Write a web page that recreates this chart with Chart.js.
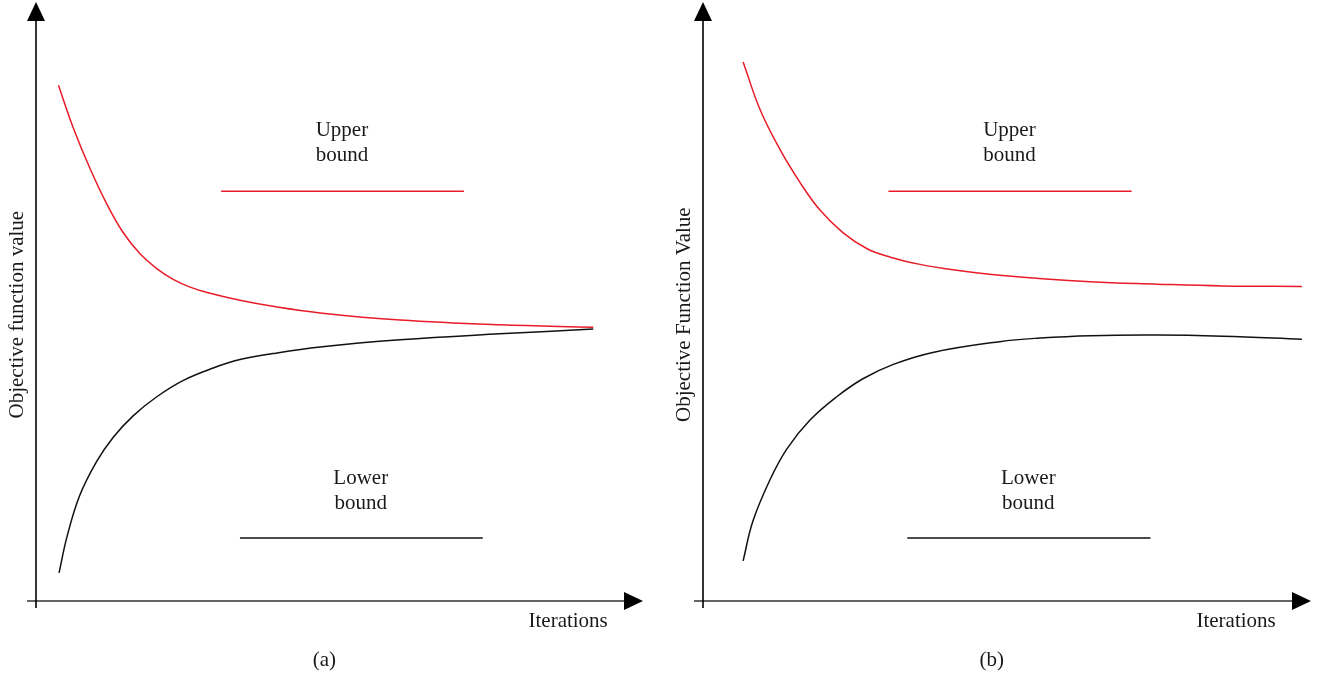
<!DOCTYPE html>
<html>
<head>
<meta charset="utf-8">
<title>Upper and lower bound convergence</title>
<script src="https://cdn.jsdelivr.net/npm/chart.js@4.4.1/dist/chart.umd.min.js"></script>
<style>
  html, body { margin: 0; padding: 0; background: #fff; }
  #wrap { position: relative; width: 1322px; height: 676px; }
  canvas { position: absolute; top: 0; }
  #chart-a { left: 0; }
  #chart-b { left: 661px; }
</style>
</head>
<body>
<div id="wrap">
  <canvas id="chart-a" width="661" height="676"></canvas>
  <canvas id="chart-b" width="661" height="676"></canvas>
</div>
<script>
'use strict';

// DATA (iterations 0-100, objective value 0-100)

let upperAx = [3.7, 6.1, 8.9, 11.7, 14.3, 17.1, 19.9, 22.6, 25.4, 28.2, 33.6, 39.0, 46.8, 60.0, 76.4, 91.8];
let upperAy = [86.1, 79.1, 72.2, 66.2, 61.6, 58.0, 55.5, 53.7, 52.4, 51.5, 50.2, 49.2, 48.1, 46.9, 46.1, 45.7];
let lowerAx = [3.8, 5.1, 7.2, 10.0, 12.7, 16.0, 19.9, 24.2, 29.2, 33.6, 39.0, 46.8, 60.0, 76.4, 91.8];
let lowerAy = [4.7, 10.7, 17.6, 23.3, 27.3, 30.9, 34.1, 36.8, 38.9, 40.3, 41.3, 42.4, 43.6, 44.6, 45.4];

let upperBx = [6.6, 9.4, 12.7, 16.0, 19.2, 23.0, 27.0, 30.8, 35.7, 41.1, 48.8, 63.7, 74.7, 85.5, 98.5];
let upperBy = [90.0, 82.0, 75.3, 69.8, 65.3, 61.5, 58.8, 57.4, 56.2, 55.3, 54.4, 53.3, 52.9, 52.6, 52.5];
let lowerBx = [6.6, 8.2, 11.0, 13.8, 17.6, 22.0, 26.3, 31.3, 37.8, 48.8, 55.4, 63.7, 74.7, 85.5, 98.5];
let lowerBy = [6.7, 13.3, 20.2, 25.4, 30.2, 34.1, 37.1, 39.5, 41.5, 43.3, 43.9, 44.3, 44.4, 44.2, 43.7];

// key segments: [x start, x end], y level
let upperKeyX = [30.5, 70.5];
let upperKeyY = 68.4;
let lowerKeyX = [33.6, 73.6];
let lowerKeyY = 10.5;

// TEXTS

let keyLabels = [['Upper', 'bound'], ['Lower', 'bound']];
let yTitles = ['Objective function value', 'Objective Function Value'];
let xTitle = 'Iterations';
let panelLabels = ['(a)', '(b)'];

// STYLE

const RED = 'rgb(232, 28, 40)';
const BLACK = '#111';
const FONT = '21px "Liberation Serif", "Times New Roman", serif';

// HELPERS

function toPoints(xs, ys) {
  let pts = [];
  for (let i = 0; i < xs.length; i++) {
    pts.push({ x: xs[i], y: ys[i] });
  }
  return pts;
}

function curve(xs, ys, color) {
  return {
    data: toPoints(xs, ys),
    borderColor: color,
    borderWidth: 1.5,
    pointRadius: 0,
    tension: 0.4,
    fill: false
  };
}

function keyLine(xs, y, color) {
  return {
    data: [{ x: xs[0], y: y }, { x: xs[1], y: y }],
    borderColor: color,
    borderWidth: 1.5,
    pointRadius: 0,
    tension: 0,
    fill: false
  };
}

// draws arrowed axes, key labels, axis titles and panel caption
function decorPlugin(idx) {
  return {
    id: 'decor' + idx,
    afterDraw(chart) {
      let c = chart.ctx;
      let xs = chart.scales.x;
      let ys = chart.scales.y;
      let ox = xs.getPixelForValue(0);
      let oy = ys.getPixelForValue(0);
      let tipX = xs.getPixelForValue(100);
      let tipY = ys.getPixelForValue(100);

      c.save();
      // x axis
      c.strokeStyle = '#333';
      c.lineWidth = 1.6;
      c.beginPath();
      c.moveTo(ox - 9, oy);
      c.lineTo(tipX - 16, oy);
      c.stroke();
      c.fillStyle = '#000';
      c.beginPath();
      c.moveTo(tipX, oy);
      c.lineTo(tipX - 19, oy - 9);
      c.lineTo(tipX - 19, oy + 9);
      c.closePath();
      c.fill();
      // y axis
      c.strokeStyle = '#000';
      c.beginPath();
      c.moveTo(ox, oy + 7);
      c.lineTo(ox, tipY + 16);
      c.stroke();
      c.beginPath();
      c.moveTo(ox, tipY);
      c.lineTo(ox - 9, tipY + 19);
      c.lineTo(ox + 9, tipY + 19);
      c.closePath();
      c.fill();

      // key labels
      c.font = FONT;
      c.fillStyle = '#1a1a1a';
      c.textAlign = 'center';
      c.textBaseline = 'middle';
      c.fillText(keyLabels[0][0], xs.getPixelForValue(50.4), ys.getPixelForValue(78.5));
      c.fillText(keyLabels[0][1], xs.getPixelForValue(50.4), ys.getPixelForValue(74.3));
      c.fillText(keyLabels[1][0], xs.getPixelForValue(53.5), ys.getPixelForValue(20.5));
      c.fillText(keyLabels[1][1], xs.getPixelForValue(53.5), ys.getPixelForValue(16.2));

      // x title
      c.textAlign = 'right';
      c.fillText(xTitle, xs.getPixelForValue(94.2), oy + 20);

      // caption
      c.textAlign = 'center';
      c.fillText(panelLabels[idx], xs.getPixelForValue(47.5), oy + 59);

      // y title
      c.translate(ox - 19, ys.getPixelForValue(47.8));
      c.rotate(-Math.PI / 2);
      c.fillText(yTitles[idx], 0, 0);
      c.restore();
    }
  };
}

function makeChart(canvasId, idx, datasets, padRight) {
  let ctx = document.getElementById(canvasId).getContext('2d');
  return new Chart(ctx, {
    type: 'line',
    data: { datasets: datasets },
    options: {
      responsive: false,
      animation: false,
      layout: {
        padding: { left: idx === 0 ? 36 : 42, right: padRight, top: 2, bottom: 75 }
      },
      plugins: {
        legend: { display: false },
        tooltip: { enabled: false }
      },
      scales: {
        x: { type: 'linear', min: 0, max: 100, display: false },
        y: { type: 'linear', min: 0, max: 100, display: false }
      }
    },
    plugins: [decorPlugin(idx)]
  });
}

// RENDER

makeChart('chart-a', 0, [
  curve(upperAx, upperAy, RED),
  curve(lowerAx, lowerAy, BLACK),
  keyLine(upperKeyX, upperKeyY, RED),
  keyLine(lowerKeyX, lowerKeyY, BLACK)
], 18);

makeChart('chart-b', 1, [
  curve(upperBx, upperBy, RED),
  curve(lowerBx, lowerBy, BLACK),
  keyLine(upperKeyX, upperKeyY, RED),
  keyLine(lowerKeyX, lowerKeyY, BLACK)
], 11);
</script>
</body>
</html>
